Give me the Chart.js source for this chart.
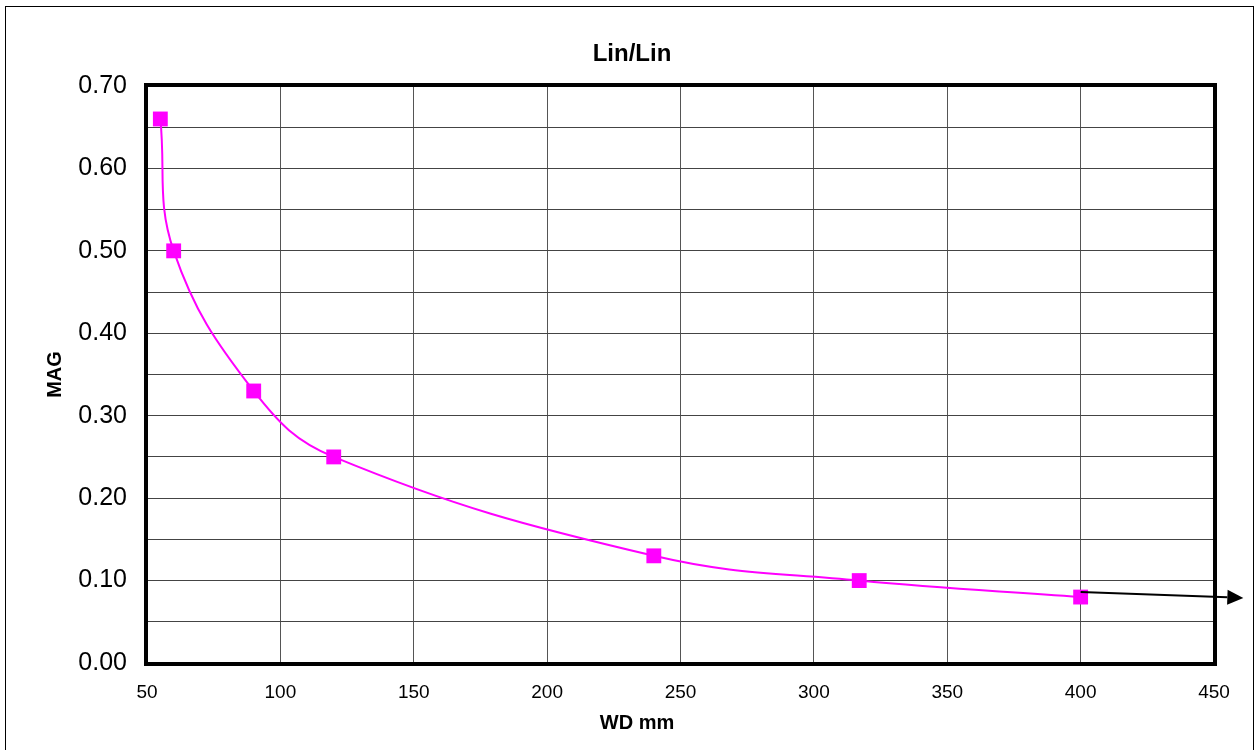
<!DOCTYPE html>
<html>
<head>
<meta charset="utf-8">
<script src="https://cdn.jsdelivr.net/npm/chart.js@4/dist/chart.umd.min.js"></script>
<style>
  html, body { margin: 0; padding: 0; background: #fff; }
  canvas { display: block; }
</style>
</head>
<body>
<canvas id="magChart" width="1256" height="750"></canvas>
<script>
// data
const wd = [55, 60, 90, 120, 240, 317, 400];
const mag = [0.66, 0.50, 0.33, 0.25, 0.13, 0.10, 0.08];
const xRange = [50, 450];
const yRange = [0, 0.70];
// arrow running past the right edge of the plot
const arrowFrom = [400, 0.086];
const arrowTo = [461, 0.079];

const fontFamily = '"Liberation Sans", Arial, sans-serif';

// frame, title, x label, heavy plot border, arrow
const decorations = {
    id: 'decorations',
    beforeDraw(chart) {
        const c = chart.ctx;
        c.save();
        c.fillStyle = '#fff';
        c.fillRect(0, 0, chart.width, chart.height);
        c.strokeStyle = '#000';
        c.lineWidth = 1;
        c.strokeRect(5.5, 6.5, 1248, 760);
        c.restore();
    },
    beforeDatasetsDraw(chart) {
        const a = chart.chartArea;
        const c = chart.ctx;
        c.save();
        c.strokeStyle = '#000';
        c.lineWidth = 4;
        c.strokeRect(a.left - 1, a.top - 1, a.right - a.left + 2, a.bottom - a.top + 2);
        c.restore();
    },
    afterDraw(chart) {
        const c = chart.ctx;
        const xs = chart.scales.x, ys = chart.scales.y;
        c.save();
        c.fillStyle = '#000';
        c.textAlign = 'center';
        c.textBaseline = 'middle';
        c.font = 'bold 24px ' + fontFamily;
        c.fillText('Lin/Lin', 632, 54);
        c.font = 'bold 20px ' + fontFamily;
        c.fillText('WD mm', 637, 723);

        const x1 = xs.getPixelForValue(arrowFrom[0]), y1 = ys.getPixelForValue(arrowFrom[1]);
        const x2 = xs.getPixelForValue(arrowTo[0]), y2 = ys.getPixelForValue(arrowTo[1]);
        const ang = Math.atan2(y2 - y1, x2 - x1);
        const len = 16, half = 7.5;
        const bx = x2 - len * Math.cos(ang), by = y2 - len * Math.sin(ang);
        c.strokeStyle = '#000';
        c.lineWidth = 2;
        c.beginPath();
        c.moveTo(x1, y1);
        c.lineTo(bx, by);
        c.stroke();
        c.beginPath();
        c.moveTo(x2, y2);
        c.lineTo(bx + half * Math.sin(ang), by - half * Math.cos(ang));
        c.lineTo(bx - half * Math.sin(ang), by + half * Math.cos(ang));
        c.closePath();
        c.fill();
        c.restore();
    }
};

const ctx = document.getElementById('magChart').getContext('2d');
window.magChart = new Chart(ctx, {
    type: 'scatter',
    data: {
        datasets: [{
            label: 'MAG',
            data: wd.map((w, i) => ({ x: w, y: mag[i] })),
            showLine: true,
            borderColor: '#ff00ff',
            backgroundColor: '#ff00ff',
            borderWidth: 2,
            tension: 0.4,
            pointStyle: 'rect',
            pointRadius: 10.5,
            pointHoverRadius: 10.5,
            pointBorderWidth: 0
        }]
    },
    options: {
        responsive: false,
        animation: false,
        layout: {
            padding: { left: 0, top: 86, right: 42, bottom: 0 }
        },
        plugins: {
            legend: { display: false },
            title: { display: false },
            tooltip: { enabled: false }
        },
        scales: {
            x: {
                type: 'linear',
                min: xRange[0],
                max: xRange[1],
                afterFit(scale) { scale.height = 87; },
                border: { display: false },
                grid: { color: '#555', lineWidth: 1, drawTicks: false },
                ticks: {
                    stepSize: 50,
                    padding: 18,
                    color: '#000',
                    font: { family: fontFamily, size: 19 }
                }
            },
            y: {
                min: yRange[0],
                max: yRange[1],
                afterFit(scale) { scale.width = 147; },
                border: { display: false },
                grid: { color: '#444', lineWidth: 1, drawTicks: false },
                title: {
                    display: true,
                    text: 'MAG',
                    color: '#000',
                    padding: { top: 43, bottom: 0 },
                    font: { family: fontFamily, size: 20, weight: 'bold' }
                },
                ticks: {
                    stepSize: 0.05,
                    padding: 20,
                    color: '#000',
                    font: { family: fontFamily, size: 25 },
                    callback: function (v) {
                        const k = Math.round(v * 100);
                        return k % 10 === 0 ? (k / 100).toFixed(2) : '';
                    }
                }
            }
        }
    },
    plugins: [decorations]
});
</script>
</body>
</html>
